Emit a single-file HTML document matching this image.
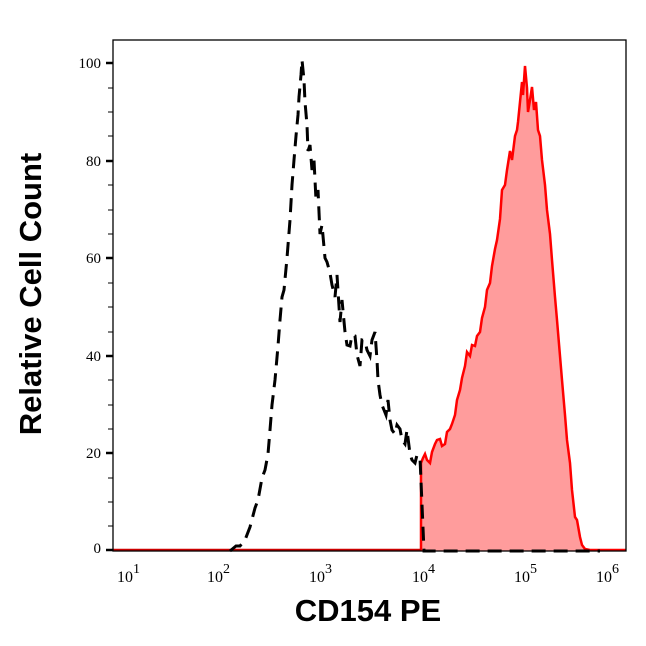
<!DOCTYPE html>
<html><head><style>body{margin:0;background:#fff}</style></head><body>
<svg width="646" height="641" viewBox="0 0 646 641" xmlns="http://www.w3.org/2000/svg">
<rect width="646" height="641" fill="#fff"/>
<polygon fill="#ff9c9c" stroke="none" points="421,551 421,463 423,458 425,454 427,460 430,463 432,452 435,444 437,440 440,439 442,446 445,444 447,432 450,429 452,424 455,415 457,400 460,390 462,378 465,366 467,352 470,356 472,345 475,346 477,336 480,332 482,318 485,307 487,290 490,283 492,266 495,249 497,240 500,219 502,190 505,185 507,170 510,151 512,160 515,136 517,130 518,122 520,102 522,82 523,95 525,66 527,88 528,112 530,100 532,87 534,110 536,102 538,130 540,136 542,160 545,185 547,210 550,234 552,260 555,297 557,320 560,356 562,380 565,415 567,440 570,463 572,490 575,517 577,520 580,537 582,545 585,549 585,551"/>
<polyline fill="none" stroke="#ff0000" stroke-width="2.5" points="421,551 421,463 423,458 425,454 427,460 430,463 432,452 435,444 437,440 440,439 442,446 445,444 447,432 450,429 452,424 455,415 457,400 460,390 462,378 465,366 467,352 470,356 472,345 475,346 477,336 480,332 482,318 485,307 487,290 490,283 492,266 495,249 497,240 500,219 502,190 505,185 507,170 510,151 512,160 515,136 517,130 518,122 520,102 522,82 523,95 525,66 527,88 528,112 530,100 532,87 534,110 536,102 538,130 540,136 542,160 545,185 547,210 550,234 552,260 555,297 557,320 560,356 562,380 565,415 567,440 570,463 572,490 575,517 577,520 580,537 582,545 585,549 590,550 626,550"/>
<line x1="113" y1="550" x2="421" y2="550" stroke="#cc0000" stroke-width="2.5"/>
<polyline fill="none" stroke="#000" stroke-width="3" stroke-dasharray="14,8" points="230,551 236,546 240,546 245,540 250,527 255,508 258,500 262,478 265,470 268,454 270,430 272,405 275,380 278,346 280,320 282,297 284,290 287,258 290,220 292,185 294,160 296,136 298,115 299,97 301,75 302,60 304,80 305,102 307,125 308,151 310,145 312,170 314,160 316,200 318,190 320,234 322,225 325,258 327,262 330,273 332,285 335,297 337,275 340,322 342,300 345,332 347,345 350,346 352,335 355,336 357,355 360,366 362,340 365,341 367,350 370,356 372,340 375,332 377,360 378,380 380,395 382,405 384,410 386,415 388,400 390,420 392,430 395,434 397,425 400,429 402,440 405,444 407,430 410,454 412,460 415,463 417,455 420,458 424,551 600,551"/>
<rect x="113" y="40" width="513" height="511" fill="none" stroke="#000" stroke-width="1.3"/>
<g stroke="#000" stroke-width="2.5">
<line x1="106" y1="63" x2="113" y2="63"/><line x1="106" y1="161" x2="113" y2="161"/><line x1="106" y1="258" x2="113" y2="258"/><line x1="106" y1="356" x2="113" y2="356"/><line x1="106" y1="453" x2="113" y2="453"/><line x1="106" y1="550" x2="113" y2="550"/>
</g>
<g stroke="#000" stroke-width="1">
<line x1="108" y1="88" x2="113" y2="88"/><line x1="108" y1="112" x2="113" y2="112"/><line x1="108" y1="136" x2="113" y2="136"/>
<line x1="108" y1="185" x2="113" y2="185"/><line x1="108" y1="210" x2="113" y2="210"/><line x1="108" y1="234" x2="113" y2="234"/>
<line x1="108" y1="283" x2="113" y2="283"/><line x1="108" y1="307" x2="113" y2="307"/><line x1="108" y1="332" x2="113" y2="332"/>
<line x1="108" y1="380" x2="113" y2="380"/><line x1="108" y1="405" x2="113" y2="405"/><line x1="108" y1="429" x2="113" y2="429"/>
<line x1="108" y1="478" x2="113" y2="478"/><line x1="108" y1="502" x2="113" y2="502"/><line x1="108" y1="526" x2="113" y2="526"/>
</g>
<g id="xt" stroke="#000" stroke-width="1"></g>
<g font-family="Liberation Serif, serif" font-size="15" text-anchor="end" fill="#000">
<text x="101" y="68">100</text><text x="101" y="166">80</text><text x="101" y="263">60</text><text x="101" y="361">40</text><text x="101" y="458">20</text><text x="101" y="553">0</text>
</g>
<g font-family="Liberation Serif, serif" font-size="16" fill="#000">
<text x="117" y="582">10<tspan dy="-9" font-size="14">1</tspan></text>
<text x="207" y="582">10<tspan dy="-9" font-size="14">2</tspan></text>
<text x="309" y="582">10<tspan dy="-9" font-size="14">3</tspan></text>
<text x="412" y="582">10<tspan dy="-9" font-size="14">4</tspan></text>
<text x="514" y="582">10<tspan dy="-9" font-size="14">5</tspan></text>
<text x="596" y="582">10<tspan dy="-9" font-size="14">6</tspan></text>
</g>
<text x="368" y="621" font-family="Liberation Sans, sans-serif" font-weight="bold" font-size="31" text-anchor="middle">CD154 PE</text>
<text transform="translate(41,294) rotate(-90)" font-family="Liberation Sans, sans-serif" font-weight="bold" font-size="31" text-anchor="middle">Relative Cell Count</text>
<script>
var g=document.getElementById('xt'),s='';
for(var d=1;d<6;d++){for(var k=1;k<10;k++){var x=113+(d-1+Math.log10(k))*102.6;var l=k==1?7:4;var w=k==1?2.5:1;
s+='<line x1="'+x+'" y1="551" x2="'+x+'" y2="'+(551+l)+'" stroke-width="'+w+'"/>';}}
s+='<line x1="626" y1="551" x2="626" y2="558" stroke-width="2.5"/>';
g.innerHTML=s;
</script>
</svg>
</body></html>
